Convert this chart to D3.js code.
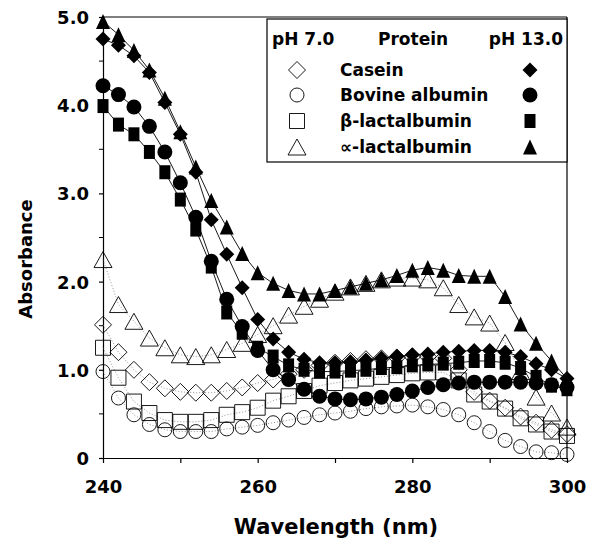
<!DOCTYPE html>
<html>
<head>
<meta charset="utf-8">
<script src="https://cdnjs.cloudflare.com/ajax/libs/d3/7.8.5/d3.min.js"></script>
<style>
  body { margin: 0; background: #fff; }
  text { font-family: "DejaVu Sans", sans-serif; font-weight: bold; fill: #000; }
</style>
</head>
<body>
<div id="chart"></div>
<script>
// wavelengths (nm), one point every 2 nm
var wavelengths = [240, 242, 244, 246, 248, 250, 252, 254, 256, 258, 260, 262, 264, 266, 268, 270,
                   272, 274, 276, 278, 280, 282, 284, 286, 288, 290, 292, 294, 296, 298, 300];

// pH 7.0 (open symbols)
var casein7  = [1.51, 1.20, 1.00, 0.86, 0.79, 0.75, 0.74, 0.74, 0.76, 0.80, 0.85, 0.89, 0.95, 1.00, 1.05, 1.08,
                1.10, 1.12, 1.13, 1.14, 1.15, 1.15, 1.13, 1.00, 0.75, 0.65, 0.57, 0.47, 0.40, 0.32, 0.27];
var bovine7  = [0.98, 0.68, 0.49, 0.38, 0.32, 0.30, 0.30, 0.30, 0.33, 0.35, 0.37, 0.40, 0.43, 0.46, 0.49, 0.51,
                0.53, 0.56, 0.58, 0.59, 0.60, 0.58, 0.55, 0.49, 0.40, 0.30, 0.20, 0.13, 0.07, 0.06, 0.04];
var beta7    = [1.25, 0.91, 0.64, 0.51, 0.43, 0.41, 0.41, 0.43, 0.49, 0.52, 0.57, 0.65, 0.70, 0.76, 0.82, 0.85,
                0.88, 0.90, 0.92, 0.94, 0.96, 0.97, 0.97, 0.88, 0.72, 0.64, 0.56, 0.45, 0.38, 0.30, 0.25];
var alpha7   = [2.25, 1.74, 1.55, 1.36, 1.25, 1.17, 1.15, 1.17, 1.23, 1.30, 1.40, 1.50, 1.62, 1.72, 1.80, 1.88,
                1.94, 1.98, 2.02, 2.04, 2.04, 2.02, 1.93, 1.74, 1.60, 1.53, 1.31, 0.98, 0.69, 0.51, 0.35];

// pH 13.0 (filled symbols)
var casein13 = [4.75, 4.68, 4.56, 4.37, 4.03, 3.67, 3.24, 2.70, 2.31, 1.93, 1.57, 1.35, 1.20, 1.12, 1.08, 1.08,
                1.09, 1.11, 1.13, 1.15, 1.17, 1.18, 1.20, 1.21, 1.22, 1.22, 1.20, 1.15, 1.07, 1.00, 0.90];
var bovine13 = [4.22, 4.12, 3.98, 3.76, 3.47, 3.12, 2.73, 2.23, 1.80, 1.49, 1.22, 1.00, 0.89, 0.78, 0.70, 0.67,
                0.66, 0.67, 0.69, 0.72, 0.76, 0.80, 0.83, 0.85, 0.86, 0.86, 0.86, 0.86, 0.85, 0.83, 0.80];
var beta13   = [3.99, 3.78, 3.67, 3.47, 3.24, 2.93, 2.59, 2.17, 1.65, 1.42, 1.25, 1.15, 1.05, 1.00, 0.98, 0.98,
                0.99, 1.00, 1.02, 1.03, 1.05, 1.06, 1.07, 1.08, 1.10, 1.10, 1.08, 1.02, 0.92, 0.82, 0.78];
var alpha13  = [4.95, 4.80, 4.62, 4.40, 4.08, 3.70, 3.30, 2.92, 2.62, 2.32, 2.10, 1.98, 1.90, 1.86, 1.86, 1.90,
                1.94, 1.98, 2.02, 2.07, 2.13, 2.16, 2.13, 2.07, 2.06, 2.06, 1.83, 1.52, 1.30, 1.10, 0.90];

var proteins = ["Casein", "Bovine albumin", "\u03b2-lactalbumin", "\u221d-lactalbumin"];
var shapes = ["diamond", "circle", "square", "triangle"];

var yTicks = [0, 1, 2, 3, 4, 5];
var yMinor = [0.5, 1.5, 2.5, 3.5, 4.5];
var xTicks = [240, 250, 260, 270, 280, 290, 300];

// Chart setup
var svgWidth = 589;
var svgHeight = 540;

var margin = { top: 17, right: 22, bottom: 82, left: 103 };

var width = svgWidth - margin.left - margin.right;
var height = svgHeight - margin.top - margin.bottom;

var svg = d3.select("#chart")
  .append("svg")
  .attr("width", svgWidth)
  .attr("height", svgHeight);

var chartGroup = svg.append("g")
  .attr("transform", `translate(${margin.left}, ${margin.top})`);

var xScale = d3.scaleLinear().domain([240, 300]).range([0, width]);
var yScale = d3.scaleLinear().domain([0, 5]).range([height, 0]);

// marker paths, centred on 0,0
function markerPath(shape, filled) {
  if (shape === "diamond") {
    var r = filled ? 7.5 : 8.5;
    return `M0,${-r}L${r},0L0,${r}L${-r},0Z`;
  }
  if (shape === "circle") {
    var c = filled ? 7.5 : 7;
    return `M${c},0A${c},${c} 0 1,1 ${-c},0A${c},${c} 0 1,1 ${c},0Z`;
  }
  if (shape === "square") {
    var w = filled ? 5.5 : 7.5, h = filled ? 7 : 7.5;
    return `M${-w},${-h}H${w}V${h}H${-w}Z`;
  }
  // triangle
  var tw = filled ? 7 : 9, th = filled ? 7.5 : 8;
  return `M0,${-th}L${tw},${th}L${-tw},${th}Z`;
}

// Axes
var leftAxis = d3.axisLeft(yScale)
  .tickValues(yTicks)
  .tickSize(4)
  .tickSizeOuter(0)
  .tickPadding(10)
  .tickFormat(d => d === 0 ? "0" : d3.format(".1f")(d));

var bottomAxis = d3.axisBottom(xScale)
  .tickValues(xTicks)
  .tickSize(5)
  .tickSizeOuter(0)
  .tickPadding(17)
  .tickFormat(d => d % 20 === 0 ? d : "");

var yAxis = chartGroup.append("g").call(leftAxis);
var xAxis = chartGroup.append("g")
  .attr("transform", `translate(0, ${height})`)
  .call(bottomAxis);

chartGroup.selectAll(".minorY")
  .data(yMinor)
  .enter()
  .append("line")
  .attr("x1", -4)
  .attr("x2", 0)
  .attr("y1", d => yScale(d))
  .attr("y2", d => yScale(d))
  .attr("stroke", "#000");

[yAxis, xAxis].forEach(function(ax) {
  ax.selectAll("text").style("font-size", "18px").attr("fill", "#000");
  ax.selectAll("line, path").attr("stroke", "#000").attr("stroke-width", 1.2);
});
yAxis.selectAll("text").attr("dy", "0.36em");

// frame top and right
chartGroup.append("line")
  .attr("x1", 0).attr("x2", width).attr("y1", 0).attr("y2", 0)
  .attr("stroke", "#000").attr("stroke-width", 1.2);
chartGroup.append("line")
  .attr("x1", width).attr("x2", width).attr("y1", 0).attr("y2", height)
  .attr("stroke", "#000").attr("stroke-width", 1.2);

// series
var seriesPH7 = [casein7, bovine7, beta7, alpha7];
var seriesPH13 = [casein13, bovine13, beta13, alpha13];

var line = d3.line()
  .x((d, i) => xScale(wavelengths[i]))
  .y(d => yScale(d));

seriesPH7.forEach(function(values, k) {
  chartGroup.append("path")
    .datum(values)
    .attr("d", line)
    .attr("fill", "none")
    .attr("stroke", "#777")
    .attr("stroke-width", 0.8)
    .attr("stroke-dasharray", "1,2");

  chartGroup.selectAll(".open" + k)
    .data(values)
    .enter()
    .append("path")
    .attr("transform", (d, i) => `translate(${xScale(wavelengths[i])}, ${yScale(d)})`)
    .attr("d", markerPath(shapes[k], false))
    .attr("fill", "none")
    .attr("stroke", "#000")
    .attr("stroke-width", 0.9);
});

seriesPH13.forEach(function(values, k) {
  chartGroup.append("path")
    .datum(values)
    .attr("d", line)
    .attr("fill", "none")
    .attr("stroke", "#000")
    .attr("stroke-width", 0.9);

  chartGroup.selectAll(".filled" + k)
    .data(values)
    .enter()
    .append("path")
    .attr("transform", (d, i) => `translate(${xScale(wavelengths[i])}, ${yScale(d)})`)
    .attr("d", markerPath(shapes[k], true))
    .attr("fill", "#000");
});

// Legend
var legend = svg.append("g");

legend.append("rect")
  .attr("x", 267)
  .attr("y", 19)
  .attr("width", 300)
  .attr("height", 143)
  .attr("fill", "#fff")
  .attr("stroke", "#000")
  .attr("stroke-width", 1.2);

legend.append("text").attr("x", 272).attr("y", 45).style("font-size", "17px").text("pH 7.0");
legend.append("text").attr("x", 378).attr("y", 45).style("font-size", "17px").text("Protein");
legend.append("text").attr("x", 563).attr("y", 45).attr("text-anchor", "end").style("font-size", "17px").text("pH 13.0");

var rowY = [76, 101, 127, 153];

proteins.forEach(function(name, k) {
  legend.append("path")
    .attr("transform", `translate(297, ${rowY[k] - 6})`)
    .attr("d", markerPath(shapes[k], false))
    .attr("fill", "none")
    .attr("stroke", "#000")
    .attr("stroke-width", 0.9);

  legend.append("text")
    .attr("x", 340)
    .attr("y", rowY[k])
    .style("font-size", "17px")
    .text(name);

  legend.append("path")
    .attr("transform", `translate(530, ${rowY[k] - 6})`)
    .attr("d", markerPath(shapes[k], true))
    .attr("fill", "#000");
});

// Axis titles
svg.append("text")
  .attr("x", 336)
  .attr("y", 534)
  .attr("text-anchor", "middle")
  .style("font-size", "21px")
  .text("Wavelength (nm)");

svg.append("text")
  .attr("transform", "rotate(-90)")
  .attr("x", -259)
  .attr("y", 32)
  .attr("text-anchor", "middle")
  .style("font-size", "18px")
  .text("Absorbance");
</script>
</body>
</html>
